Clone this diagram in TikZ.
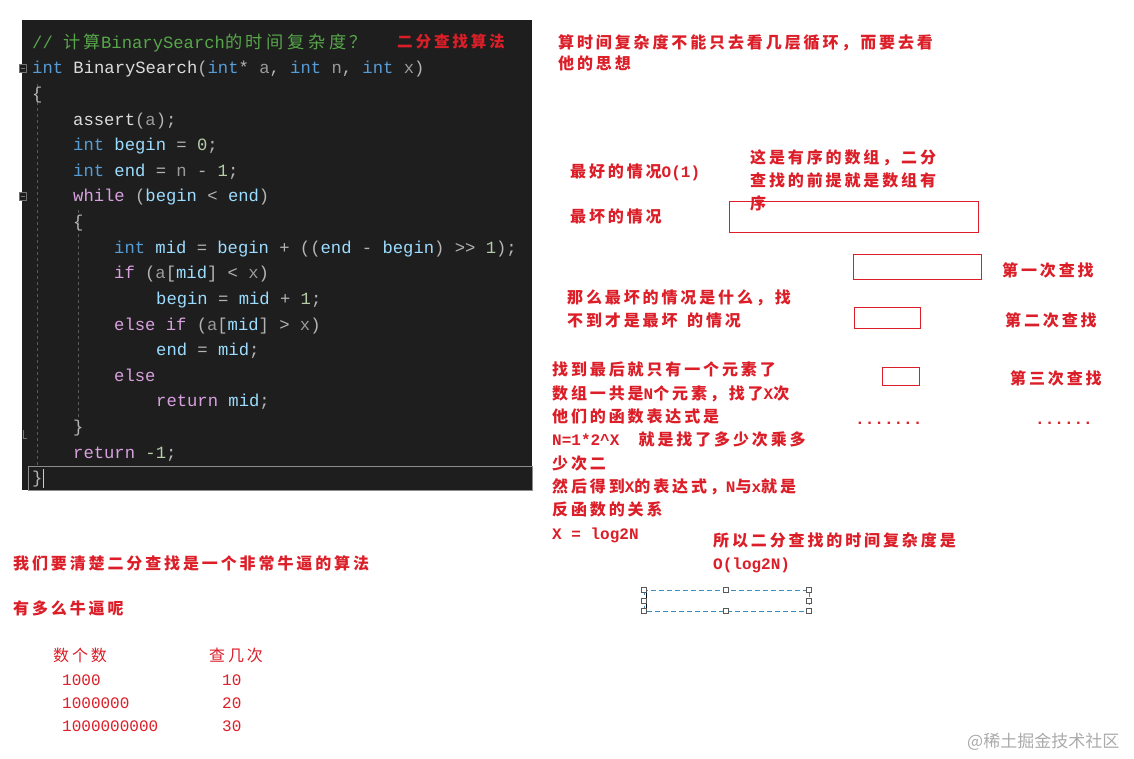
\documentclass[tikz,border=0pt]{standalone}
\usepackage{fontspec}
\setmonofont{Liberation Mono}
\newfontfamily\cjk[LetterSpace=18]{Noto Sans CJK SC}
\newfontfamily\cjkc[LetterSpace=21]{Noto Sans CJK SC}
\newfontfamily\cjkn{Noto Sans CJK SC}
\newfontfamily\lat{Liberation Mono}
\definecolor{codebg}{HTML}{1E1E1E}
\definecolor{cmt}{HTML}{57A64A}
\definecolor{kwc}{HTML}{569CD6}
\definecolor{ctl}{HTML}{D8A0DF}
\definecolor{varc}{HTML}{9CDCFE}
\definecolor{parc}{HTML}{9A9A9A}
\definecolor{numc}{HTML}{B5CEA8}
\definecolor{fnc}{HTML}{DCDCDC}
\definecolor{opc}{HTML}{B4B4B4}
\definecolor{annored}{HTML}{DC1E28}
\definecolor{guide}{HTML}{5A5A5A}
\definecolor{selblue}{HTML}{3A8FC0}
\definecolor{wmark}{HTML}{ABABAB}
\newcommand\ckw[1]{\textcolor{kwc}{#1}}
\newcommand\cctl[1]{\textcolor{ctl}{#1}}
\newcommand\cvar[1]{\textcolor{varc}{#1}}
\newcommand\cpar[1]{\textcolor{parc}{#1}}
\newcommand\cnum[1]{\textcolor{numc}{#1}}
\newcommand\cfn[1]{\textcolor{fnc}{#1}}
\begin{document}
\begin{tikzpicture}[x=1pt,y=-1pt,
  codeline/.style={anchor=base west, inner sep=0pt, text=opc,
    font=\ttfamily\fontsize{17.2}{20}\selectfont},
  redtxt/.style={anchor=north west, inner sep=0pt, align=left, text=annored,
    font=\cjk\bfseries\fontsize{16}{23}\selectfont},
  redtxtb/.style={redtxt, font=\cjk\bfseries\fontsize{16}{21}\selectfont},
  redtxtc/.style={redtxt, font=\cjk\bfseries\fontsize{16}{23.3}\selectfont},
  redreg/.style={anchor=north west, inner sep=0pt, text=annored,
    font=\cjk\fontsize{16}{23}\selectfont},
  rednum/.style={anchor=base west, inner sep=0pt, text=annored,
    font=\lat\fontsize{16}{20}\selectfont},
  redbox/.style={draw=annored, line width=0.9pt},
  handle/.style={draw=black!65, fill=white, line width=0.6pt, minimum size=5pt, inner sep=0pt},
]
\useasboundingbox[fill=white] (0,0) rectangle (1134,759);

% ---------- code editor ----------
\fill[codebg] (22,20) rectangle (532,490);
\draw[guide, dashed, line width=0.8pt] (37,84) -- (37,466);
\draw[guide, dashed, line width=0.8pt] (78,210) -- (78,434);
\draw[black!45, line width=0.8pt] (28,466) rectangle (532,490);
\draw[black!55, line width=0.7pt, fill=codebg] (19,64) rectangle (26,72);
\draw[black!55, line width=0.7pt] (20.5,68) -- (24.5,68);
\draw[black!55, line width=0.7pt, fill=codebg] (19,192) rectangle (26,200);
\draw[black!55, line width=0.7pt] (20.5,196) -- (24.5,196);
\draw[black!55, line width=0.8pt] (23,430) -- (23,438) -- (27,438);
\draw[white!80!black, line width=0.9pt] (43,469) -- (43,488);

\node[codeline] (c0)  at (32,48.4)  {\textcolor{cmt}{// {\cjkc 计算}BinarySearch{\cjkc 的时间复杂度？}}};
\node[redtxt, anchor=north west, font=\cjk\bfseries\fontsize{15.6}{20}\selectfont] (c0r) at (397,34) {二分查找算法};
\node[codeline] (c1)  at (32,74)    {\ckw{int} \cfn{BinarySearch}(\ckw{int}* \cpar{a}, \ckw{int} \cpar{n}, \ckw{int} \cpar{x})};
\node[codeline] (c2)  at (32,99.6)  {\{};
\node[codeline] (c3)  at (73,125.2) {\cfn{assert}(\cpar{a});};
\node[codeline] (c4)  at (73,150.8) {\ckw{int} \cvar{begin} = \cnum{0};};
\node[codeline] (c5)  at (73,176.4) {\ckw{int} \cvar{end} = \cpar{n} - \cnum{1};};
\node[codeline] (c6)  at (73,202)   {\cctl{while} (\cvar{begin} < \cvar{end})};
\node[codeline] (c7)  at (73,227.6) {\{};
\node[codeline] (c8)  at (114,253.2) {\ckw{int} \cvar{mid} = \cvar{begin} + ((\cvar{end} - \cvar{begin}) >{}> \cnum{1});};
\node[codeline] (c9)  at (114,278.8) {\cctl{if} (\cpar{a}[\cvar{mid}] < \cpar{x})};
\node[codeline] (c10) at (156,304.4) {\cvar{begin} = \cvar{mid} + \cnum{1};};
\node[codeline] (c11) at (114,330)   {\cctl{else} \cctl{if} (\cpar{a}[\cvar{mid}] > \cpar{x})};
\node[codeline] (c12) at (156,355.6) {\cvar{end} = \cvar{mid};};
\node[codeline] (c13) at (114,381.2) {\cctl{else}};
\node[codeline] (c14) at (156,406.8) {\cctl{return} \cvar{mid};};
\node[codeline] (c15) at (73,432.4)  {\}};
\node[codeline] (c16) at (73,458)    {\cctl{return} \cnum{-1};};
\node[codeline] (c17) at (32,483.6)  {\}};

% ---------- annotations ----------
\node[redtxtb] (t1) at (558,34) {算时间复杂度不能只去看几层循环，而要去看\\他的思想};
\node[redtxt] (best) at (570,164) {最好的情况{\lat\bfseries O(1)}};
\node[redtxt] (ordered) at (750,149) {这是有序的数组，二分\\查找的前提就是数组有\\序};
\node[redtxt] (worst) at (570,209) {最坏的情况};

\draw[redbox] (729,201) rectangle (978,232);
\draw[redbox] (853,254) rectangle (981,279);
\draw[redbox] (854,307) rectangle (920,328);
\draw[redbox] (882,367) rectangle (919,385);
\node[redtxt] (s1) at (1002,262) {第一次查找};
\node[redtxt] (s2) at (1005,312) {第二次查找};
\node[redtxt] (s3) at (1010,370) {第三次查找};
\node[redtxt, font=\lat\bfseries\fontsize{16}{20}\selectfont, anchor=base west] (d1) at (855,424) {.......};
\node[redtxt, font=\lat\bfseries\fontsize{16}{20}\selectfont, anchor=base west] (d2) at (1035,424) {......};

\node[redtxt] (wq) at (567,290) {那么最坏的情况是什么，找\\不到才是最坏{\lat\ }的情况};

\node[redtxtc] (deriv) at (552,362) {找到最后就只有一个元素了\\
数组一共是{\lat\bfseries N}个元素，找了{\lat\bfseries X}次\\
他们的函数表达式是\\
{\lat\bfseries N=1*2\textasciicircum X\ \ }就是找了多少次乘多\\
少次二\\
然后得到{\lat\bfseries X}的表达式，{\lat\bfseries N}与{\lat\bfseries x}就是\\
反函数的关系\\
{\lat\bfseries X = log2N}};

\node[redtxt] (concl) at (713,532) {所以二分查找的时间复杂度是\\{\lat\bfseries O(log2N)}};

% selected empty text box
\draw[selblue, dash pattern=on 5pt off 3pt, line width=1pt] (644,590) rectangle (809,611);
\draw[black, line width=0.9pt] (646,592) -- (646,609);
\node[handle] (h1) at (644,590) {};
\node[handle] (h2) at (726,590) {};
\node[handle] (h3) at (809,590) {};
\node[handle] (h4) at (644,600.5) {};
\node[handle] (h5) at (809,600.5) {};
\node[handle] (h6) at (644,611) {};
\node[handle] (h7) at (726,611) {};
\node[handle] (h8) at (809,611) {};

% bottom left
\node[redtxt] (awe) at (13,555) {我们要清楚二分查找是一个非常牛逼的算法};
\node[redtxt] (how) at (13,601) {有多么牛逼呢};
\node[redreg] (th1) at (53,648) {数个数};
\node[redreg] (th2) at (209,648) {查几次};
\node[rednum] (n1) at (62,685) {1000};
\node[rednum] (n2) at (62,708) {1000000};
\node[rednum] (n3) at (62,731) {1000000000};
\node[rednum] (k1) at (222,685) {10};
\node[rednum] (k2) at (222,708) {20};
\node[rednum] (k3) at (222,731) {30};

\node[anchor=west, inner sep=0pt, text=wmark, font=\cjkn\fontsize{17}{20}\selectfont] (wm) at (967,742) {@稀土掘金技术社区};
\end{tikzpicture}
\end{document}
